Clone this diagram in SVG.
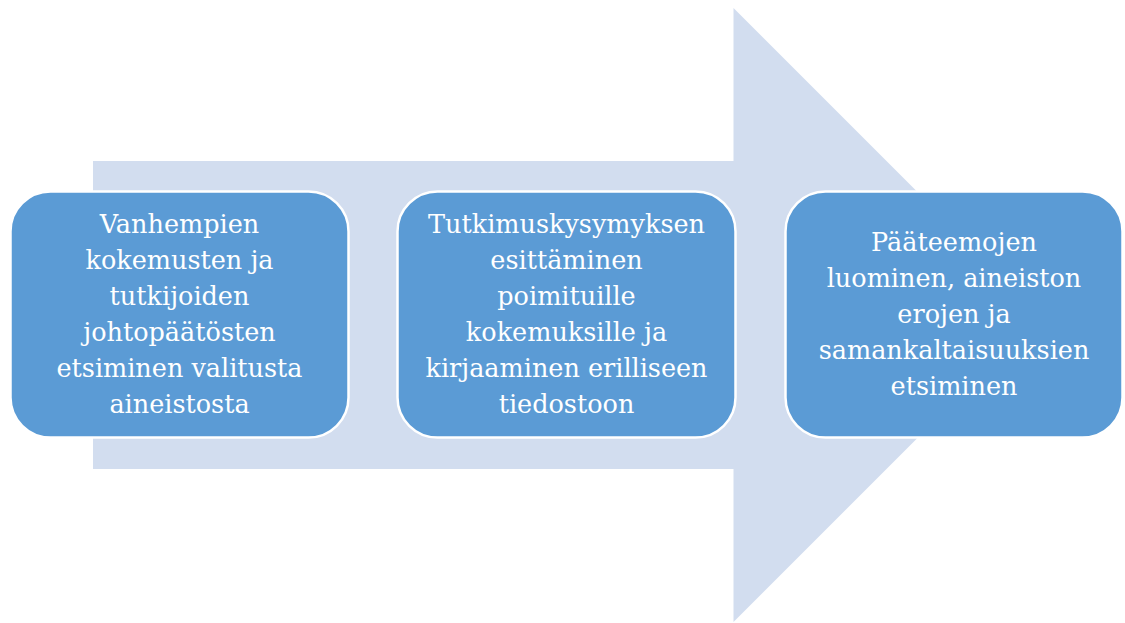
<svg xmlns="http://www.w3.org/2000/svg" width="1125" height="623" viewBox="0 0 1125 623">
<style>
.box{fill:#5b9bd5;stroke:#ffffff;stroke-width:2.5}
.t{font-family:"DejaVu Serif","Liberation Serif",serif;font-size:25.5px;fill:#ffffff;text-anchor:middle}
</style>
<rect width="1125" height="623" fill="#ffffff"/>
<g id="arrow">
<polygon points="93,161 733.5,161 733.5,8 1040.5,315 733.5,622 733.5,469 93,469" fill="#d2ddef"/>
</g>
<g id="connectors"></g>
<g id="node1">
<rect class="box" x="10.5" y="191.5" width="338" height="246" rx="40" ry="40"/>
<text class="t" x="179.5"><tspan x="179.5" y="233">Vanhempien</tspan><tspan x="179.5" y="269">kokemusten ja</tspan><tspan x="179.5" y="305">tutkijoiden</tspan><tspan x="179.5" y="341">johtopäätösten</tspan><tspan x="179.5" y="377">etsiminen valitusta</tspan><tspan x="179.5" y="413">aineistosta</tspan></text>
</g>
<g id="node2">
<rect class="box" x="397.5" y="191.5" width="338" height="246" rx="40" ry="40"/>
<text class="t" x="566.5"><tspan x="566.5" y="233">Tutkimuskysymyksen</tspan><tspan x="566.5" y="269">esittäminen</tspan><tspan x="566.5" y="305">poimituille</tspan><tspan x="566.5" y="341">kokemuksille ja</tspan><tspan x="566.5" y="377">kirjaaminen erilliseen</tspan><tspan x="566.5" y="413">tiedostoon</tspan></text>
</g>
<g id="node3">
<rect class="box" x="785.5" y="191.5" width="337" height="246" rx="40" ry="40"/>
<text class="t" x="954"><tspan x="954" y="251">Pääteemojen</tspan><tspan x="954" y="287">luominen, aineiston</tspan><tspan x="954" y="323">erojen ja</tspan><tspan x="954" y="359">samankaltaisuuksien</tspan><tspan x="954" y="395">etsiminen</tspan></text>
</g>
</svg>
